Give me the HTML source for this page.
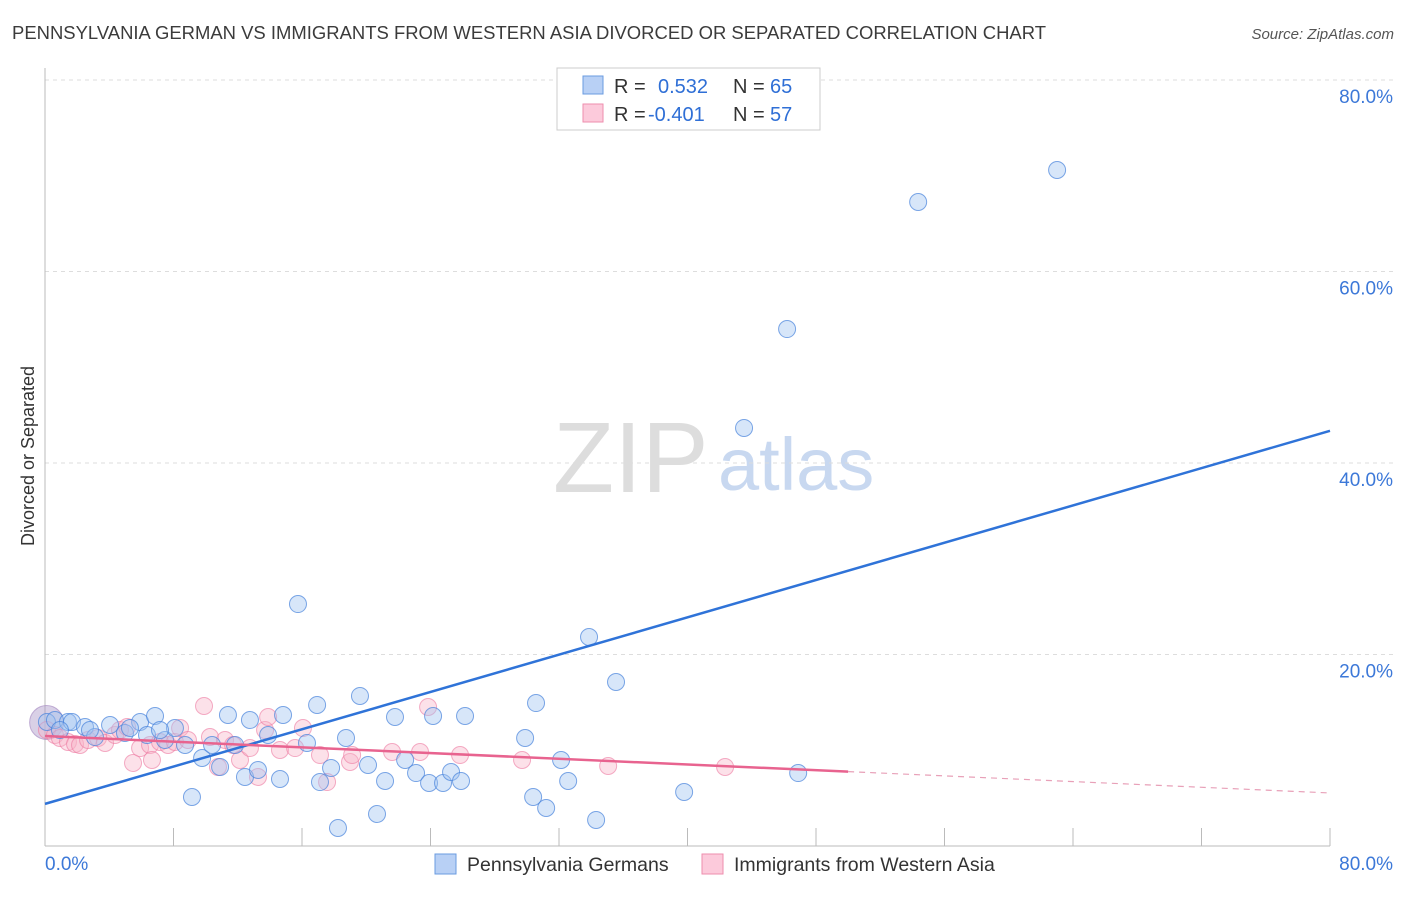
<!DOCTYPE html>
<html><head><meta charset="utf-8"><style>
body{margin:0;background:#fff;font-family:"Liberation Sans",sans-serif}
svg text{font-family:"Liberation Sans",sans-serif}
</style></head><body>
<svg id="c" width="1406" height="892" viewBox="0 0 1406 892">
<text x="12" y="39" font-size="18" fill="#3b3b3b" textLength="1034" lengthAdjust="spacingAndGlyphs">PENNSYLVANIA GERMAN VS IMMIGRANTS FROM WESTERN ASIA DIVORCED OR SEPARATED CORRELATION CHART</text>
<text x="1394" y="39" font-size="15" fill="#555" text-anchor="end" font-style="italic">Source: ZipAtlas.com</text>
<text x="553" y="492" font-size="100" fill="#ddd" font-family="Liberation Serif">ZIP</text>
<text x="718" y="490" font-size="74" fill="#c8d8f0">atlas</text>
<text transform="translate(34,456) rotate(-90)" font-size="18" fill="#333" text-anchor="middle">Divorced or Separated</text>
<g id="grid"></g><g id="ticks"></g><g id="pts"></g><g id="lines"></g>
<g>
<rect x="557" y="68" width="263" height="62" fill="#fff" stroke="#ccc"/>
<rect x="583" y="76" width="20" height="18" fill="#b8d0f5" stroke="#6a9be0"/>
<rect x="583" y="104" width="20" height="18" fill="#fccadb" stroke="#ee8eae"/>
<text x="614" y="93" font-size="20" fill="#333">R = </text><text x="658" y="93" font-size="20" fill="#2f6fd6">0.532</text>
<text x="733" y="93" font-size="20" fill="#333">N = </text><text x="770" y="93" font-size="20" fill="#2f6fd6">65</text>
<text x="614" y="121" font-size="20" fill="#333">R = </text><text x="648" y="121" font-size="20" fill="#2f6fd6">-0.401</text>
<text x="733" y="121" font-size="20" fill="#333">N = </text><text x="770" y="121" font-size="20" fill="#2f6fd6">57</text>
</g>
<g>
<rect x="435" y="854" width="21" height="20" fill="#b8d0f5" stroke="#6a9be0"/>
<text x="467" y="871" font-size="19.5" fill="#333">Pennsylvania Germans</text>
<rect x="702" y="854" width="21" height="20" fill="#fccadb" stroke="#ee8eae"/>
<text x="734" y="871" font-size="19.5" fill="#333">Immigrants from Western Asia</text>
</g>
</svg>
<script>
const yTicks=[20,40,60,80];
const xTickLabels=["0.0%","80.0%"];
const blueX=[0.12,0.62,1.43,1.68,2.49,3.11,4.05,4.98,5.92,6.35,6.85,7.47,8.09,8.72,9.15,9.78,10.40,10.90,11.39,11.83,12.45,12.76,13.26,13.89,14.63,14.82,15.75,16.31,16.94,17.12,17.81,18.24,18.74,19.61,20.11,20.67,21.17,21.79,22.42,23.10,23.91,24.16,24.78,25.28,25.90,26.15,29.89,30.39,30.57,31.20,32.13,32.57,33.87,34.31,35.55,39.79,43.52,46.20,46.89,54.36,63.01,2.80,5.29,7.16,0.93];
const blueY=[12.95,13.16,12.95,12.95,12.43,11.38,12.64,11.80,12.95,11.59,13.58,11.07,12.32,10.55,5.12,9.19,10.55,8.25,13.68,10.55,7.21,13.16,7.94,11.59,7.00,13.68,25.27,10.76,14.73,6.68,8.15,1.88,11.28,15.67,8.46,3.34,6.79,13.47,8.98,7.62,6.58,13.58,6.58,7.73,6.79,13.58,11.28,5.12,14.93,3.97,8.98,6.79,21.83,2.72,17.13,5.64,43.66,53.99,7.62,67.26,70.60,12.11,12.32,12.11,12.11];
const pinkX=[0.12,0.62,0.93,1.43,1.87,2.18,2.68,3.30,3.74,4.36,4.67,5.11,5.48,5.92,6.54,6.66,7.16,7.66,8.09,8.41,8.90,9.90,10.27,10.77,11.21,11.71,12.14,12.76,13.26,13.70,13.89,14.63,15.57,16.06,17.12,17.56,18.99,19.12,21.61,23.35,23.85,25.84,29.70,35.06,42.34];
const pinkY=[12.11,11.59,11.28,10.86,10.65,10.55,11.07,11.28,10.76,11.59,12.11,12.43,8.67,10.23,10.55,8.98,10.86,10.55,10.86,12.32,11.07,14.62,11.38,8.25,11.07,10.55,8.98,10.23,7.21,12.11,13.47,10.03,10.23,12.32,9.50,6.68,8.77,9.50,9.82,9.82,14.52,9.50,8.98,8.36,8.25];
const blueTrend=[4.4,0.487];
const pinkTrend=[11.49,-0.0744];
const pinkSolidEnd=50;
const X0=45,X1=1330,Y0=846,Y1=80;
const sx=v=>X0+v/80*(X1-X0), sy=v=>Y0-v/80*(Y0-Y1);
const NS="http://www.w3.org/2000/svg";
function mk(tag,attrs,parent){const e=document.createElementNS(NS,tag);for(const k in attrs)e.setAttribute(k,attrs[k]);parent.appendChild(e);return e;}
const grid=document.getElementById('grid'),ticks=document.getElementById('ticks'),pts=document.getElementById('pts'),lines=document.getElementById('lines');
yTicks.forEach(t=>{
 const l=mk('line',{x1:X0,x2:1394,y1:sy(t),y2:sy(t),stroke:'#ddd','stroke-dasharray':'4,4'},grid);
 
 
 const tx=mk('text',{x:1393,y:sy(t)+23,'font-size':19,fill:'#3c78d8','text-anchor':'end'},ticks);
 tx.textContent=t.toFixed(1)+'%';
 
 
});
const ax=mk('line',{x1:X0,x2:X0,y1:68,y2:Y0,stroke:'#bbb'},ticks);


const xa=mk('line',{x1:X0,x2:X1,y1:Y0,y2:Y0,stroke:'#bbb'},ticks);


for(let i=1;i<=10;i++){const tk=mk('line',{x1:sx(i*8),x2:sx(i*8),y1:828,y2:Y0,stroke:'#bbb'},ticks);
 
 }
const xl0=mk('text',{x:45,y:870,'font-size':19,fill:'#3c78d8'},ticks);xl0.textContent=xTickLabels[0];


const xl1=mk('text',{x:1393,y:870,'font-size':19,fill:'#3c78d8','text-anchor':'end'},ticks);xl1.textContent=xTickLabels[1];


const big=mk('circle',{cx:sx(0.1),cy:sy(12.9),r:17,fill:'rgba(170,150,200,0.45)',stroke:'rgba(160,130,190,0.6)'},pts);


pinkX.forEach((x,i)=>{const c=mk('circle',{cx:sx(x),cy:sy(pinkY[i]),r:8.5,fill:'rgba(248,180,200,0.4)',stroke:'rgba(236,120,160,0.6)'},pts);
 
 });
blueX.forEach((x,i)=>{const c=mk('circle',{cx:sx(x),cy:sy(blueY[i]),r:8.5,fill:'rgba(160,195,240,0.42)',stroke:'rgba(70,130,220,0.7)'},pts);
 
 });
const bt=mk('line',{x1:sx(0),y1:sy(blueTrend[0]),x2:sx(80),y2:sy(blueTrend[0]+80*blueTrend[1]),stroke:'#2f73d8','stroke-width':2.5},lines);


const pt=mk('line',{x1:sx(0),y1:sy(pinkTrend[0]),x2:sx(pinkSolidEnd),y2:sy(pinkTrend[0]+pinkSolidEnd*pinkTrend[1]),stroke:'#e8638f','stroke-width':2.5},lines);


const pd=mk('line',{x1:sx(pinkSolidEnd),y1:sy(pinkTrend[0]+pinkSolidEnd*pinkTrend[1]),x2:sx(80),y2:sy(pinkTrend[0]+80*pinkTrend[1]),stroke:'#e8a0b8','stroke-width':1.2,'stroke-dasharray':'6,5'},lines);


</script>
</body></html>
